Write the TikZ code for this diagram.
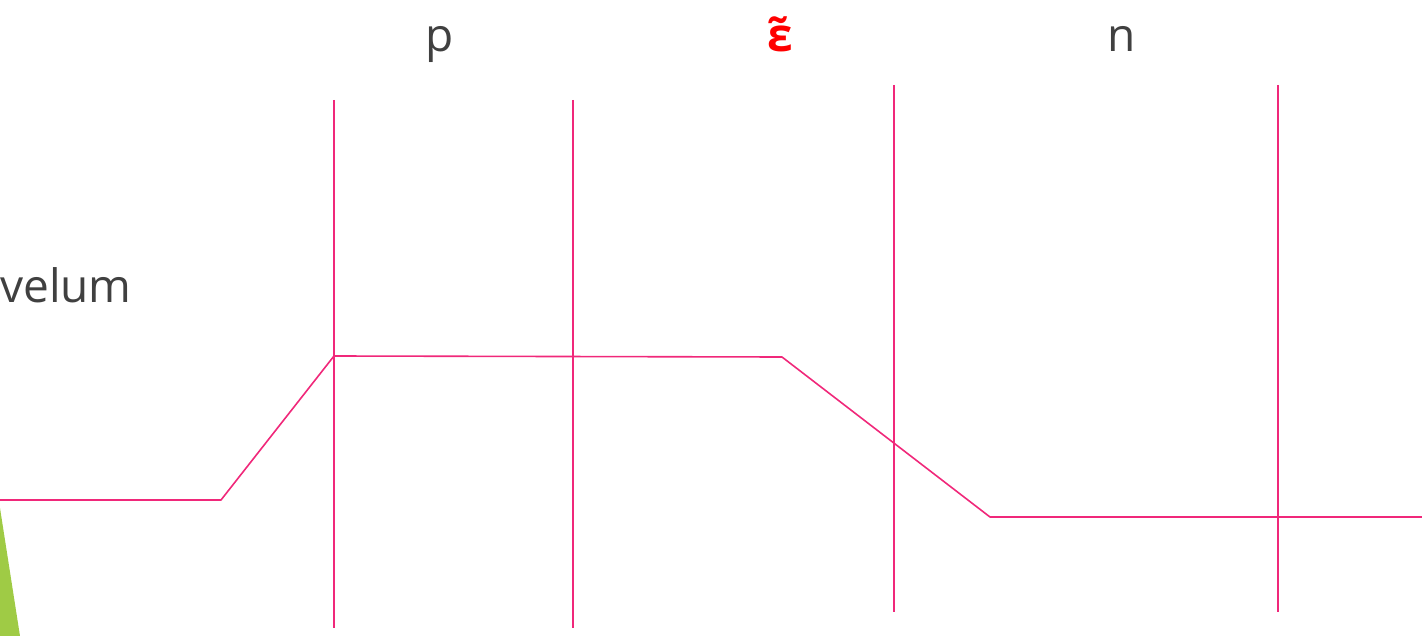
\documentclass[tikz,border=0pt]{standalone}
\usepackage{fontspec}
\setmainfont{Open Sans}
\definecolor{pinkline}{HTML}{F0287A}
\definecolor{leaf}{HTML}{9FCB45}
\definecolor{txt}{HTML}{404040}
\definecolor{redtxt}{HTML}{FF0000}
\begin{document}
\begin{tikzpicture}[x=1pt,y=-1pt,
  pl/.style={draw=pinkline,line width=1.6pt},
  lbl/.style={inner sep=0pt,text=txt,font=\fontsize{46}{50}\selectfont,anchor=base}]
\useasboundingbox (0,0) rectangle (1422,636);
\fill[leaf] (0,508) -- (20,636) -- (0,636) -- cycle;
% vertical lines
\coordinate (v1t) at (334,100); \coordinate (v1b) at (334,628);
\coordinate (v2t) at (573,100); \coordinate (v2b) at (573,628);
\coordinate (v3t) at (894,85);  \coordinate (v3b) at (894,612);
\coordinate (v4t) at (1278,85); \coordinate (v4b) at (1278,612);
\draw[pl] (v1t) -- (v1b);
\draw[pl] (v2t) -- (v2b);
\draw[pl] (v3t) -- (v3b);
\draw[pl] (v4t) -- (v4b);
% profile
\coordinate (a) at (0,500);
\coordinate (b) at (221,500);
\coordinate (c) at (334,356);
\coordinate (d) at (782,357);
\coordinate (e) at (990,517);
\coordinate (f) at (1422,517);
\draw[pl,line join=round] (a) -- (b) -- (c) -- (d) -- (e) -- (f);
% labels
\node[lbl] (p) at (440,52) {p};
\node[lbl,text=redtxt,font=\fontsize{46}{50}\selectfont\bfseries] (eps) at (780,52) {\~{ε}};
\node[lbl] (n) at (1122,52) {n};
\node[lbl,anchor=base west] (velum) at (0,303) {velum};
\end{tikzpicture}
\end{document}
